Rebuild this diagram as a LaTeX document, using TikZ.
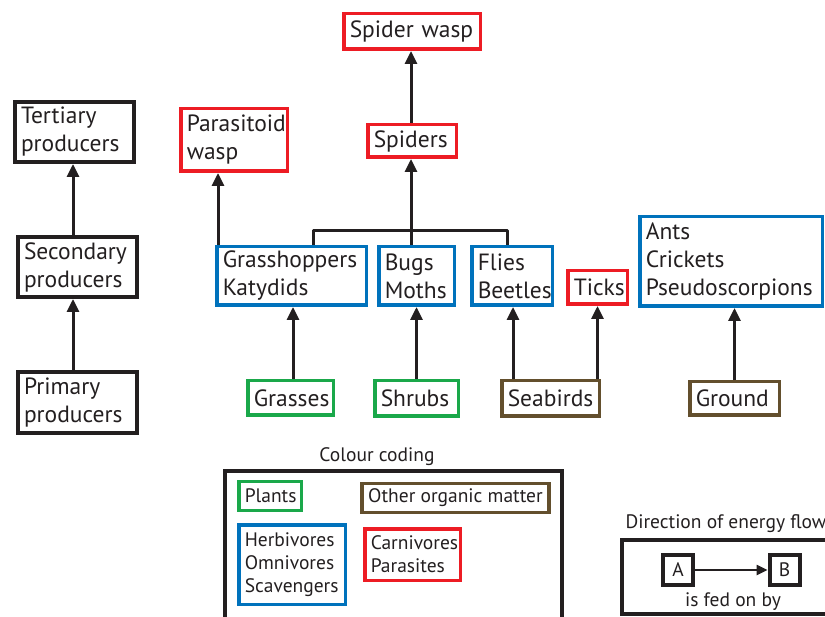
\documentclass[tikz,border=0pt]{standalone}
\usepackage{fontspec}
\setmainfont{PT Sans}
\usetikzlibrary{arrows.meta}
\definecolor{ink}{RGB}{35,31,32}
\definecolor{cred}{RGB}{237,28,36}
\definecolor{cblue}{RGB}{0,114,188}
\definecolor{cgreen}{RGB}{26,168,74}
\definecolor{cbrown}{RGB}{99,79,45}
\hyphenpenalty=10000
\tikzset{
  kbox/.style={draw=ink, line width=4pt, inner xsep=6pt, inner ysep=1pt, align=left, text=ink,
    font=\fontsize{23.5}{28}\selectfont},
  rbox/.style={kbox, draw=cred, line width=3.5pt},
  bbox/.style={kbox, draw=cblue, line width=3.5pt},
  gbox/.style={kbox, draw=cgreen, line width=3.5pt},
  obox/.style={kbox, draw=cbrown, line width=3.5pt},
  sz/.style 2 args={text width=#1, minimum height=#2},
  small/.style={font=\fontsize{19.5}{23.3}\selectfont},
  arr/.style={draw=ink, line width=3pt, -{Triangle[length=13pt,width=12pt]}},
  link/.style={draw=ink, line width=3pt, line join=round},
}
\begin{document}
\begin{tikzpicture}[x=1pt,y=-1pt]
        \useasboundingbox (0,0) rectangle (825,617);
        \clip (0,0) rectangle (825,617);
        % trophic levels
        \node [kbox,sz={107pt}{60pt}] (tert) at (74.5,132) {Tertiary\\producers};
        \node [kbox,sz={107pt}{60pt}] (sec) at (77.5,267) {Secondary\\producers};
        \node [kbox,sz={107pt}{61pt}] (prim) at (77.5,402.5) {Primary\\producers};
        \draw [arr] (prim.north -| 73,0) -- (sec.south -| 73,0);
        \draw [arr] (sec.north -| 73,0) -- (tert.south -| 73,0);
        % food web
        \node [rbox,sz={124.5pt}{35.5pt}] (spw) at (412,31.5) {Spider wasp};
        \node [rbox,sz={94.5pt}{62.5pt}] (para) at (234,140) {Parasitoid\\wasp};
        \node [rbox,sz={76.5pt}{32.5pt}] (spiders) at (412,141) {Spiders};
        \node [bbox,sz={137.5pt}{58.5pt}] (grass) at (291.5,276) {Grasshoppers\\Katydids};
        \node [bbox,sz={63.5pt}{58.5pt}] (bugs) at (416.5,276) {Bugs\\Moths};
        \node [bbox,sz={68.5pt}{58.5pt}] (flies) at (512,276) {Flies\\Beetles};
        \node [rbox,sz={47.5pt}{33.5pt}] (ticks) at (597.5,287.5) {Ticks};
        \node [bbox,sz={170.5pt}{89.5pt}] (ants) at (731,261.5) {Ants\\Crickets\\Pseudoscorpions};
        \node [gbox,sz={73.5pt}{34.5pt}] (grasses) at (290.5,398) {Grasses};
        \node [gbox,sz={71.5pt}{35.5pt}] (shrubs) at (416.5,398.5) {Shrubs};
        \node [obox,sz={85.5pt}{35.5pt}] (seabirds) at (550.5,398.5) {Seabirds};
        \node [obox,sz={77.5pt}{33.5pt}] (ground) at (734.5,398.5) {Ground};
        \coordinate (j1) at (313,231);
        \coordinate (j2) at (411,231);
        \coordinate (j3) at (507,231);
        \draw [link] (j1 |- grass.north) -- (j1) -- (j3) -- (j3 |- flies.north);
        \draw [arr] (j2 |- bugs.north) -- (j2 |- spiders.south);
        \draw [arr] (spiders.north -| j2) -- (spw.south -| j2);
        \draw [arr] ([xshift=3pt]grass.north west) -- ([xshift=3pt]grass.north west |- para.south);
        \draw [arr] (grasses.north -| 293,0) -- (grass.south -| 293,0);
        \draw [arr] (shrubs.north) -- (bugs.south -| shrubs.north);
        \draw [arr] (seabirds.north -| 513,0) -- (flies.south -| 513,0);
        \draw [arr] (seabirds.north -| ticks.south) -- (ticks.south);
        \draw [arr] (ground.north) -- (ants.south -| ground.north);
        % colour coding
        \node [small,text=ink] (cclab) at (377,457) {Colour coding};
        \draw [draw=ink,line width=4pt] (225,471) rectangle (562,650);
        \node [gbox,small,sz={50.5pt}{28.5pt}] (plants) at (270,496) {Plants};
        \node [obox,small,align=center,minimum width=183.5pt,minimum height=28.5pt] (other) at (455.5,498) {Other organic matter};
        \node [bbox,small,sz={94.5pt}{79.5pt}] (herb) at (292,564.5) {Herbivores\\Omnivores\\Scavengers};
        \node [rbox,small,sz={83.5pt}{51.5pt}] (carn) at (412.5,554.5) {Carnivores\\Parasites};
        % energy flow
        \node [small,text=ink,anchor=west] (eflab) at (622,524) {Direction of energy flow};
        \draw [draw=ink,line width=4pt] (622,540) rectangle (870,614);
        \node [kbox,small,align=center,inner sep=0pt,minimum size=30pt] (A) at (678,570) {A};
        \node [kbox,small,align=center,inner sep=0pt,minimum size=30pt] (B) at (784.5,570) {B};
        \draw [draw=ink,line width=2.4pt,-{Triangle[length=11pt,width=10pt]}] (A) -- (B);
        \node [small,text=ink] (fed) at (733,602) {is fed on by};
      \end{tikzpicture}
\end{document}
